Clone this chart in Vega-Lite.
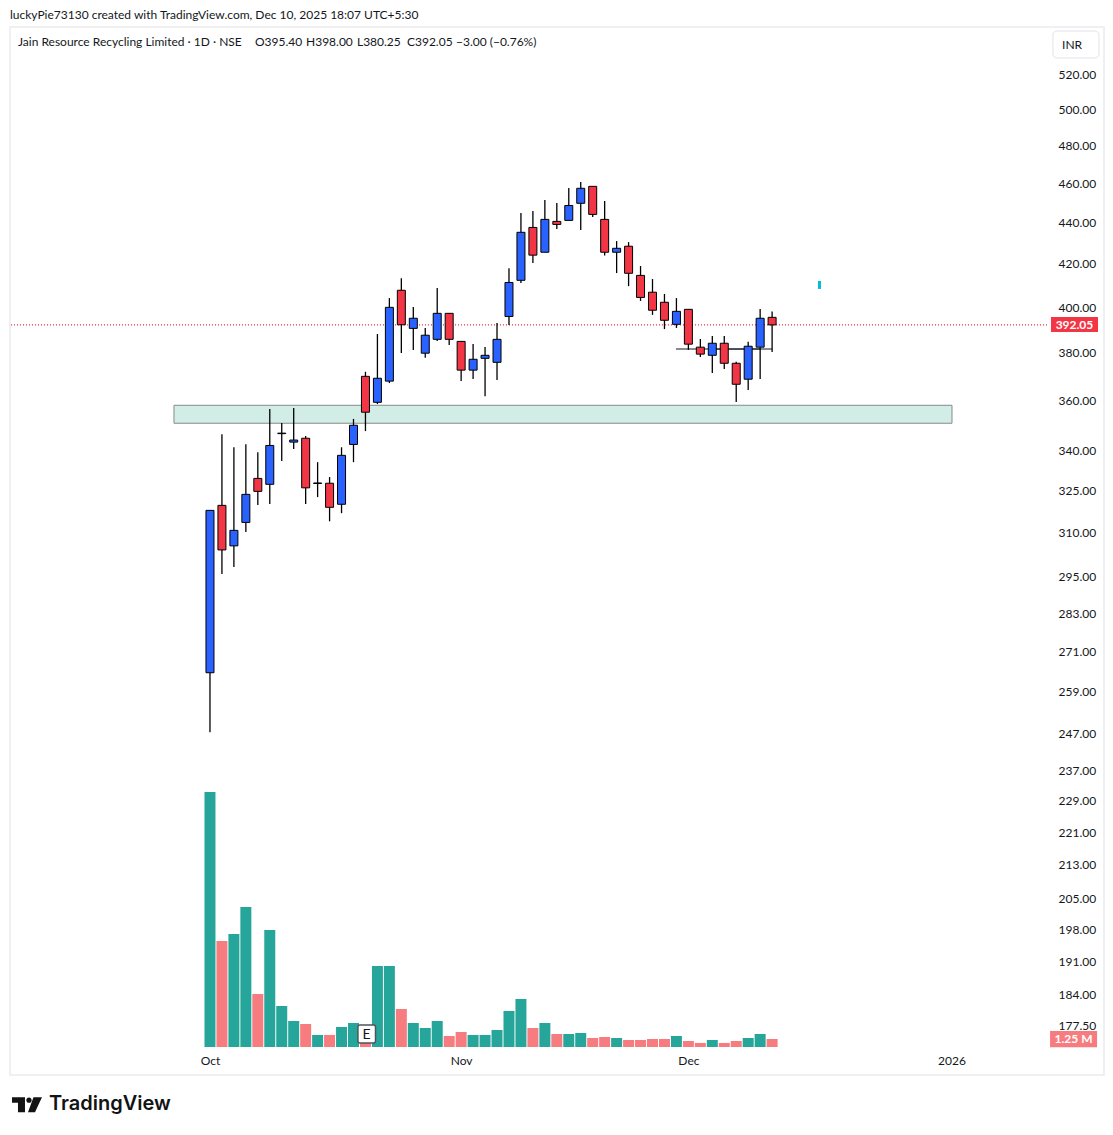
{
  "$schema": "https://vega.github.io/schema/vega-lite/v6.json",
  "autosize": {"type": "none"},
  "padding": {"left": 10, "top": 27, "right": 9, "bottom": 60},
  "width": 1094,
  "height": 1048,
  "background": "#ffffff",
  "title": {
    "text": "luckyPie73130 created with TradingView.com, Dec 10, 2025 18:07 UTC+5:30",
    "anchor": "start",
    "frame": "group",
    "offset": 5,
    "fontSize": 12,
    "fontWeight": "normal",
    "font": "Lato",
    "color": "#131722"
  },
  "config": {
    "view": {"stroke": "#f0f0f0", "strokeWidth": 2},
    "font": "Lato",
    "axis": {"domain": false, "ticks": false, "grid": false, "labelFont": "Lato", "labelFontSize": 12, "labelColor": "#131722", "title": null}
  },
  "datasets": {
    "candles": [
      {"date":"2025-10-01","bar":0,"open":264.6,"high":318.0,"low":247.4,"close":317.9,"volume_m":39.84,"dir":"up"},
      {"date":"2025-10-03","bar":1,"open":319.7,"high":346.5,"low":295.8,"close":304.0,"volume_m":16.56,"dir":"down"},
      {"date":"2025-10-06","bar":2,"open":305.4,"high":341.4,"low":298.2,"close":310.8,"volume_m":17.66,"dir":"up"},
      {"date":"2025-10-07","bar":3,"open":313.6,"high":342.6,"low":310.2,"close":323.7,"volume_m":21.88,"dir":"up"},
      {"date":"2025-10-08","bar":4,"open":329.6,"high":339.5,"low":319.8,"close":324.8,"volume_m":8.28,"dir":"down"},
      {"date":"2025-10-09","bar":5,"open":327.4,"high":356.5,"low":320.2,"close":342.1,"volume_m":18.28,"dir":"up"},
      {"date":"2025-10-10","bar":6,"open":346.7,"high":350.9,"low":336.1,"close":346.9,"volume_m":6.41,"dir":"up"},
      {"date":"2025-10-13","bar":7,"open":343.4,"high":356.9,"low":340.7,"close":344.2,"volume_m":4.06,"dir":"up"},
      {"date":"2025-10-14","bar":8,"open":344.9,"high":345.8,"low":320.2,"close":326.1,"volume_m":3.59,"dir":"down"},
      {"date":"2025-10-15","bar":9,"open":327.7,"high":335.7,"low":322.7,"close":327.9,"volume_m":1.88,"dir":"up"},
      {"date":"2025-10-16","bar":10,"open":327.8,"high":330.1,"low":314.0,"close":319.0,"volume_m":1.88,"dir":"down"},
      {"date":"2025-10-17","bar":11,"open":320.1,"high":341.4,"low":316.9,"close":338.3,"volume_m":3.13,"dir":"up"},
      {"date":"2025-10-20","bar":12,"open":342.5,"high":352.5,"low":335.7,"close":350.0,"volume_m":3.75,"dir":"up"},
      {"date":"2025-10-21","bar":13,"open":369.9,"high":371.8,"low":347.7,"close":355.2,"volume_m":3.13,"dir":"down"},
      {"date":"2025-10-23","bar":14,"open":359.2,"high":388.0,"low":358.5,"close":369.1,"volume_m":12.66,"dir":"up"},
      {"date":"2025-10-24","bar":15,"open":367.9,"high":404.1,"low":367.1,"close":399.9,"volume_m":12.66,"dir":"up"},
      {"date":"2025-10-27","bar":16,"open":407.7,"high":413.3,"low":379.8,"close":392.1,"volume_m":5.94,"dir":"down"},
      {"date":"2025-10-28","bar":17,"open":390.5,"high":400.0,"low":381.1,"close":395.0,"volume_m":3.75,"dir":"up"},
      {"date":"2025-10-29","bar":18,"open":379.7,"high":390.7,"low":377.7,"close":387.5,"volume_m":2.97,"dir":"up"},
      {"date":"2025-10-30","bar":19,"open":385.7,"high":408.7,"low":385.0,"close":397.2,"volume_m":4.06,"dir":"up"},
      {"date":"2025-10-31","bar":20,"open":397.2,"high":397.3,"low":383.2,"close":385.7,"volume_m":1.72,"dir":"down"},
      {"date":"2025-11-03","bar":21,"open":384.8,"high":385.0,"low":368.0,"close":372.5,"volume_m":2.34,"dir":"down"},
      {"date":"2025-11-04","bar":22,"open":372.5,"high":383.7,"low":368.8,"close":377.1,"volume_m":1.88,"dir":"up"},
      {"date":"2025-11-06","bar":23,"open":377.5,"high":382.4,"low":361.7,"close":378.8,"volume_m":1.88,"dir":"up"},
      {"date":"2025-11-07","bar":24,"open":375.8,"high":392.9,"low":368.4,"close":385.7,"volume_m":2.66,"dir":"up"},
      {"date":"2025-11-10","bar":25,"open":395.8,"high":418.0,"low":392.0,"close":411.3,"volume_m":5.63,"dir":"up"},
      {"date":"2025-11-11","bar":26,"open":412.3,"high":444.9,"low":411.0,"close":435.3,"volume_m":7.5,"dir":"up"},
      {"date":"2025-11-12","bar":27,"open":437.7,"high":445.9,"low":420.5,"close":424.2,"volume_m":2.97,"dir":"down"},
      {"date":"2025-11-13","bar":28,"open":425.6,"high":451.5,"low":425.6,"close":441.7,"volume_m":3.75,"dir":"up"},
      {"date":"2025-11-14","bar":29,"open":440.7,"high":450.0,"low":436.9,"close":439.2,"volume_m":2.03,"dir":"down"},
      {"date":"2025-11-17","bar":30,"open":441.2,"high":457.6,"low":441.2,"close":448.7,"volume_m":2.03,"dir":"up"},
      {"date":"2025-11-18","bar":31,"open":449.8,"high":460.8,"low":436.4,"close":457.5,"volume_m":2.19,"dir":"up"},
      {"date":"2025-11-19","bar":32,"open":458.5,"high":458.7,"low":442.9,"close":444.2,"volume_m":1.41,"dir":"down"},
      {"date":"2025-11-20","bar":33,"open":441.7,"high":451.0,"low":424.0,"close":425.6,"volume_m":1.56,"dir":"down"},
      {"date":"2025-11-21","bar":34,"open":425.6,"high":431.0,"low":415.7,"close":427.5,"volume_m":1.41,"dir":"up"},
      {"date":"2025-11-24","bar":35,"open":428.5,"high":430.5,"low":409.6,"close":415.6,"volume_m":1.09,"dir":"down"},
      {"date":"2025-11-25","bar":36,"open":414.6,"high":419.0,"low":402.8,"close":404.4,"volume_m":1.09,"dir":"down"},
      {"date":"2025-11-26","bar":37,"open":406.8,"high":412.9,"low":396.5,"close":398.6,"volume_m":1.25,"dir":"down"},
      {"date":"2025-11-27","bar":38,"open":402.2,"high":406.0,"low":390.2,"close":394.1,"volume_m":1.25,"dir":"down"},
      {"date":"2025-11-28","bar":39,"open":392.3,"high":404.1,"low":390.7,"close":398.1,"volume_m":1.72,"dir":"up"},
      {"date":"2025-12-01","bar":40,"open":399.0,"high":399.1,"low":381.1,"close":383.6,"volume_m":0.94,"dir":"down"},
      {"date":"2025-12-02","bar":41,"open":382.3,"high":385.8,"low":378.1,"close":379.3,"volume_m":0.63,"dir":"down"},
      {"date":"2025-12-03","bar":42,"open":378.8,"high":387.2,"low":371.3,"close":384.0,"volume_m":1.09,"dir":"up"},
      {"date":"2025-12-04","bar":43,"open":384.0,"high":387.2,"low":373.0,"close":375.4,"volume_m":0.63,"dir":"down"},
      {"date":"2025-12-05","bar":44,"open":375.4,"high":376.0,"low":359.3,"close":366.6,"volume_m":0.94,"dir":"down"},
      {"date":"2025-12-08","bar":45,"open":368.7,"high":384.6,"low":364.2,"close":382.7,"volume_m":1.41,"dir":"up"},
      {"date":"2025-12-09","bar":46,"open":382.3,"high":399.1,"low":368.8,"close":395.0,"volume_m":2.03,"dir":"up"},
      {"date":"2025-12-10","bar":47,"open":395.4,"high":398.0,"low":380.25,"close":392.05,"volume_m":1.25,"dir":"down"}
    ],
    "header": [
      {"bar":-16.05,"price":539.8,"label":"Jain Resource Recycling Limited · 1D · NSE"},
      {"bar":3.76,"price":539.8,"label":"O395.40"},
      {"bar":8.03,"price":539.8,"label":"H398.00"},
      {"bar":12.29,"price":539.8,"label":"L380.25"},
      {"bar":16.47,"price":539.8,"label":"C392.05"},
      {"bar":20.57,"price":539.8,"label":"−3.00 (−0.76%)"},
      {"bar":71.24,"price":537.9,"label":"INR"}
    ],
    "badges": [
      {"bar":70.32,"bar2":74.25,"price":395.6,"price2":388.9,"kind":"last"},
      {"bar":70.24,"bar2":74.17,"price":176.5,"price2":173.3,"kind":"vol"}
    ],
    "badge_text": [
      {"bar":72.28,"price":392.05,"label":"392.05"},
      {"bar":72.2,"price":174.9,"label":"1.25 M"}
    ]
  },
  "encoding": {
    "x": {
      "field": "bar",
      "type": "quantitative",
      "scale": {"domain": [-16.72, 74.75], "nice": false, "zero": false, "padding": 0},
      "axis": {
        "orient": "bottom",
        "offset": -15,
        "labelPadding": 0,
        "labelBaseline": "middle",
        "values": [0, 21, 40, 62],
        "labelExpr": "datum.value == 0 ? 'Oct' : datum.value == 21 ? 'Nov' : datum.value == 40 ? 'Dec' : '2026'",
        "labelFlush": false,
        "labelOverlap": false
      }
    }
  },
  "layer": [
    {
      "data": {"values": [{"bar":-3.01,"bar2":62.04,"price":358.0,"price2":350.8}]},
      "mark": {"type": "rect", "fill": "#d2ece6", "stroke": "#858a8c", "strokeWidth": 1},
      "encoding": {
        "x2": {"field": "bar2"},
        "y": {
          "field": "price",
          "type": "quantitative",
          "scale": {"type": "log", "domain": [167.93, 548.99], "nice": false, "zero": false},
          "axis": {
            "orient": "right",
            "offset": -46,
            "labelPadding": 0,
            "labelAlign": "left",
            "labelBound": false,
            "labelOverlap": false,
            "labelFlush": false,
            "format": ".2f",
            "values": [520,500,480,460,440,420,400,380,360,340,325,310,295,283,271,259,247,237,229,221,213,205,198,191,184,177.5]
          }
        },
        "y2": {"field": "price2"}
      }
    },
    {
      "layer": [
        {
          "data": {"values": [{"bar":-16.64,"bar2":70.07,"price":392.05}]},
          "mark": {"type": "rule", "color": "#e0303f", "strokeWidth": 1.3, "strokeDash": [1, 2]},
          "encoding": {
            "x2": {"field": "bar2"},
            "y": {
              "field": "price",
              "type": "quantitative",
              "scale": {"type": "log", "domain": [167.93, 548.99], "nice": false, "zero": false},
              "axis": null
            }
          }
        },
        {
          "data": {"values": [{"bar":38.96,"bar2":47,"price":381.5}]},
          "mark": {"type": "rule", "color": "#878a92", "strokeWidth": 2},
          "encoding": {"x2": {"field": "bar2"}, "y": {"field": "price", "type": "quantitative", "axis": null}}
        },
        {
          "data": {"values": [{"bar":42,"bar2":46,"price":381.5}]},
          "mark": {"type": "rule", "color": "#131722", "strokeWidth": 1},
          "encoding": {"x2": {"field": "bar2"}, "y": {"field": "price", "type": "quantitative", "axis": null}}
        },
        {
          "data": {"name": "candles"},
          "mark": {"type": "rule", "color": "#000000", "strokeWidth": 1.3},
          "encoding": {"y": {"field": "low", "type": "quantitative", "axis": null}, "y2": {"field": "high"}}
        },
        {
          "data": {"name": "candles"},
          "mark": {"type": "bar", "orient": "vertical", "size": 8, "stroke": "#000000", "strokeWidth": 1},
          "encoding": {
            "y": {"field": "open", "type": "quantitative", "axis": null},
            "y2": {"field": "close"},
            "color": {"field": "dir", "type": "nominal", "scale": {"domain": ["up", "down"], "range": ["#2962ff", "#f23645"]}, "legend": null}
          }
        },
        {
          "data": {"values": [{"bar":50.96,"price":412.0,"price2":408.3}]},
          "mark": {"type": "bar", "orient": "vertical", "size": 3, "color": "#00bcd4"},
          "encoding": {"y": {"field": "price", "type": "quantitative", "axis": null}, "y2": {"field": "price2"}}
        },
        {
          "data": {"values": [{"bar":70.48,"bar2":74.33,"price":546.5,"price2":530.1}]},
          "mark": {"type": "rect", "fill": "#ffffff", "stroke": "#e0e3eb", "strokeWidth": 1, "cornerRadius": 4},
          "encoding": {"x2": {"field": "bar2"}, "y": {"field": "price", "type": "quantitative", "axis": null}, "y2": {"field": "price2"}}
        },
        {
          "data": {"name": "header"},
          "mark": {"type": "text", "align": "left", "baseline": "middle", "fontSize": 12, "font": "Lato", "color": "#131722"},
          "encoding": {"y": {"field": "price", "type": "quantitative", "axis": null}, "text": {"field": "label"}}
        },
        {
          "data": {"name": "badges"},
          "mark": {"type": "rect"},
          "encoding": {
            "x2": {"field": "bar2"},
            "y": {"field": "price", "type": "quantitative", "axis": null},
            "y2": {"field": "price2"},
            "fill": {"field": "kind", "type": "nominal", "scale": {"domain": ["last", "vol"], "range": ["#f23645", "#f77c80"]}, "legend": null}
          }
        },
        {
          "data": {"name": "badge_text"},
          "mark": {"type": "text", "align": "center", "baseline": "middle", "fontSize": 12, "font": "Lato", "fontWeight": "bold", "color": "#ffffff"},
          "encoding": {"y": {"field": "price", "type": "quantitative", "axis": null}, "text": {"field": "label"}}
        },
        {
          "data": {"values": [{"bar":-13.46,"price":162.5,"label":"TradingView"}]},
          "mark": {"type": "text", "align": "left", "baseline": "middle", "fontSize": 20, "font": "Inter", "fontWeight": 600, "color": "#131313"},
          "encoding": {"y": {"field": "price", "type": "quantitative", "axis": null}, "text": {"field": "label"}}
        },
        {
          "data": {"values": [{"bar":-15.3,"price":162.4}]},
          "mark": {
            "type": "point",
            "filled": true,
            "size": 4,
            "opacity": 1,
            "color": "#131313",
            "shape": "M-15,-7.5H-2V7.5H-9V-2H-15ZM-0.7,-4.5a2.7,2.7 0 1,0 5.4,0a2.7,2.7 0 1,0 -5.4,0ZM6.5,-7.5H15L8,7.5H1Z"
          },
          "encoding": {"y": {"field": "price", "type": "quantitative", "axis": null}}
        }
      ]
    },
    {
      "layer": [
        {
          "data": {"name": "candles"},
          "mark": {"type": "bar", "orient": "vertical", "size": 11},
          "encoding": {
            "y": {"field": "volume_m", "type": "quantitative", "scale": {"domain": [-4.375, 159.375], "nice": false, "zero": false}, "axis": null},
            "y2": {"datum": 0},
            "color": {"field": "dir", "type": "nominal", "scale": {"domain": ["up", "down"], "range": ["#26a69a", "#f77c80"]}, "legend": null}
          }
        },
        {
          "data": {"values": [{"bar":12.37,"bar2":13.84,"volume_m":3.44,"volume_m2":0.63}]},
          "mark": {"type": "rect", "fill": "#ffffff", "stroke": "#50535e", "strokeWidth": 1.5, "cornerRadius": 2},
          "encoding": {
            "x2": {"field": "bar2"},
            "y": {"field": "volume_m", "type": "quantitative", "axis": null},
            "y2": {"field": "volume_m2"}
          }
        },
        {
          "data": {"values": [{"bar":13.1,"volume_m":1.95,"label":"E"}]},
          "mark": {"type": "text", "align": "center", "baseline": "middle", "fontSize": 14, "font": "Lato", "color": "#131722"},
          "encoding": {"y": {"field": "volume_m", "type": "quantitative", "axis": null}, "text": {"field": "label"}}
        }
      ]
    }
  ],
  "resolve": {"scale": {"y": "independent", "color": "independent"}}
}
